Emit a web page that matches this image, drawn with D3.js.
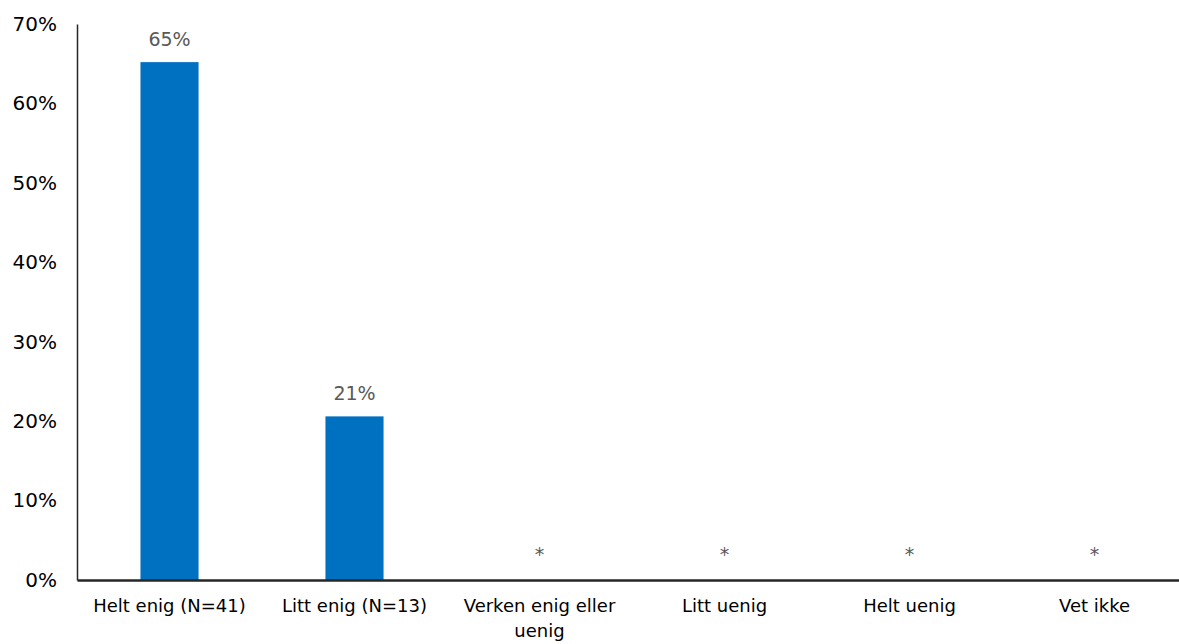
<!DOCTYPE html>
<html>
<head>
<meta charset="utf-8">
<script src="https://cdn.jsdelivr.net/npm/d3@7"></script>
<style>
  body { margin: 0; background: #fff; }
  #chart { width: 1179px; height: 644px; }
  text { font-family: "DejaVu Sans", sans-serif; }
</style>
</head>
<body>
<div id="chart"></div>
<script>
const categories = ["Helt enig (N=41)", "Litt enig (N=13)", "Verken enig eller uenig", "Litt uenig", "Helt uenig", "Vet ikke"];
const values = [0.652, 0.206, null, null, null, null];
const barLabels = ["65%", "21%", "*", "*", "*", "*"];
const yTicks = [0, 0.1, 0.2, 0.3, 0.4, 0.5, 0.6, 0.7];

const width = 1179;
const height = 644;
const margin = {top: 24, right: -8, bottom: 64, left: 77};

const svg = d3.select("#chart").append("svg")
  .attr("width", width)
  .attr("height", height);

const x = d3.scaleBand()
  .domain(categories)
  .range([margin.left, width - margin.right])
  .paddingInner(0.686)
  .paddingOuter(0.343);

const y = d3.scaleLinear()
  .domain([0, 0.7])
  .range([height - margin.bottom, margin.top]);

// eje y
const yAxis = svg.append("g")
  .attr("transform", `translate(${margin.left},0)`)
  .call(d3.axisLeft(y).tickValues(yTicks).tickFormat(d3.format(".0%")).tickSize(0).tickPadding(20));
yAxis.select(".domain").attr("stroke", "#262626").attr("stroke-width", 1.5);
yAxis.selectAll("text").attr("font-size", "20px").attr("fill", "#000")
  .attr("font-family", "'DejaVu Sans', sans-serif");

// barras
svg.selectAll("rect.bar")
  .data(categories.map((c, i) => ({c, v: values[i]})).filter(d => d.v != null))
  .join("rect")
  .attr("class", "bar")
  .attr("x", d => x(d.c))
  .attr("width", x.bandwidth())
  .attr("y", d => y(d.v))
  .attr("height", d => y(0) - y(d.v))
  .attr("fill", "#0070C0");

// etiquetas
svg.selectAll("text.lbl")
  .data(categories.map((c, i) => ({c, v: values[i], t: barLabels[i]})))
  .join("text")
  .attr("class", "lbl")
  .attr("x", d => x(d.c) + x.bandwidth() / 2)
  .attr("y", d => d.v != null ? y(d.v) - 16 : y(0) - 19)
  .attr("text-anchor", "middle")
  .attr("font-size", "19px")
  .attr("fill", "#595959")
  .text(d => d.t);

// eje x
const xAxis = svg.append("g")
  .attr("transform", `translate(0,${y(0)})`)
  .call(d3.axisBottom(x).tickSize(0).tickPadding(19));
xAxis.select(".domain").attr("stroke", "#262626").attr("stroke-width", 2.5);
xAxis.selectAll("text").attr("font-size", "18px").attr("fill", "#000")
  .attr("font-family", "'DejaVu Sans', sans-serif")
  .each(function(d) {
    if (d === "Verken enig eller uenig") {
      const t = d3.select(this);
      t.text(null);
      t.append("tspan").attr("x", 0).attr("dy", "0.71em").text("Verken enig eller");
      t.append("tspan").attr("x", 0).attr("dy", "1.4em").text("uenig");
    }
  });
</script>
</body>
</html>
